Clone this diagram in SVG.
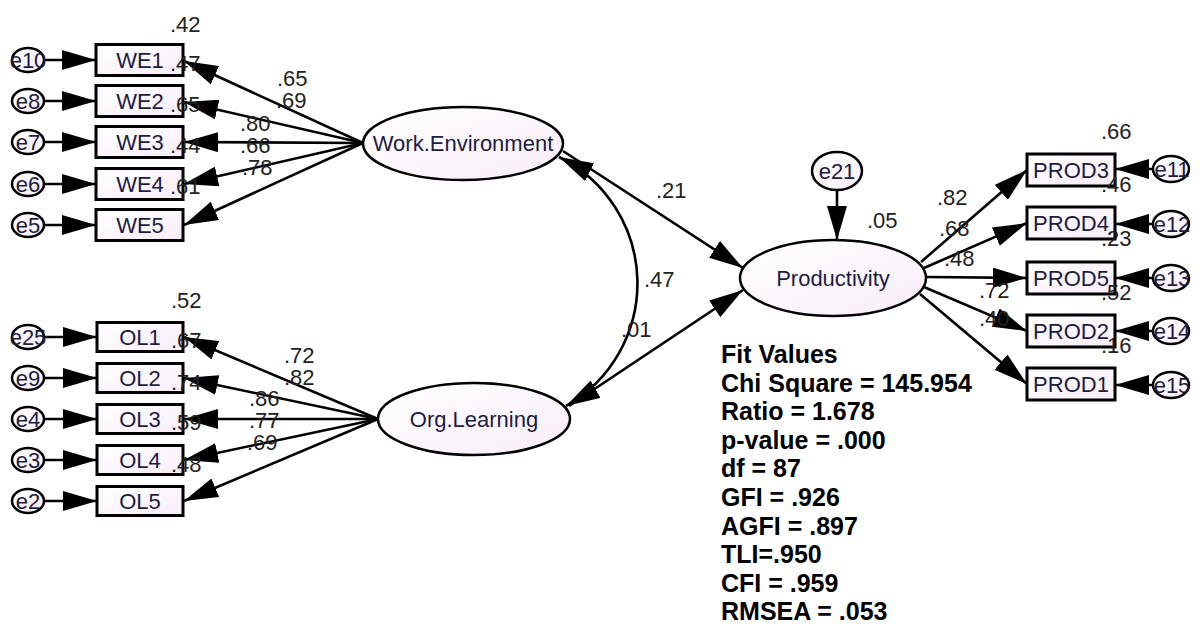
<svg xmlns="http://www.w3.org/2000/svg" width="1200" height="628" viewBox="0 0 1200 628">
<style>
.bg{fill:#ffffff}
.box{fill:url(#gf);stroke:#000;stroke-width:3}
.ell{fill:url(#gf);stroke:#000;stroke-width:2.5}
.err{fill:url(#gf);stroke:#000;stroke-width:2.5}
.lbl{font-family:"Liberation Sans",Arial,sans-serif;font-size:22px;fill:#1c1c44;text-anchor:middle}
.num{font-family:"Liberation Sans",Arial,sans-serif;font-size:22px;fill:#222}
.fit{font-family:"Liberation Sans",Arial,sans-serif;font-size:25px;font-weight:bold;fill:#000}
.ln{stroke:#000;stroke-width:2.6;fill:none}
</style>
<defs>
<linearGradient id="gf" x1="0" y1="0" x2="1" y2="1">
<stop offset="0" stop-color="#ffffff"/>
<stop offset="1" stop-color="#f9edf9"/>
</linearGradient>
<marker id="ah" markerUnits="userSpaceOnUse" markerWidth="34" markerHeight="20" refX="34" refY="10" orient="auto-start-reverse">
<path d="M0,0 L34,10 L0,20 z" fill="#000"/>
</marker>
</defs>
<rect class="bg" x="0" y="0" width="1200" height="628"/>

<g id="connectors">
<line class="ln" x1="44" y1="60" x2="96" y2="60" marker-end="url(#ah)"/>
<line class="ln" x1="44" y1="101" x2="96" y2="101" marker-end="url(#ah)"/>
<line class="ln" x1="44" y1="142" x2="96" y2="142" marker-end="url(#ah)"/>
<line class="ln" x1="44" y1="184" x2="96" y2="184" marker-end="url(#ah)"/>
<line class="ln" x1="44" y1="225" x2="96" y2="225" marker-end="url(#ah)"/>
<line class="ln" x1="363" y1="143" x2="184" y2="61" marker-end="url(#ah)"/>
<line class="ln" x1="363" y1="143" x2="184" y2="102" marker-end="url(#ah)"/>
<line class="ln" x1="363" y1="143" x2="184" y2="142" marker-end="url(#ah)"/>
<line class="ln" x1="363" y1="143" x2="184" y2="184" marker-end="url(#ah)"/>
<line class="ln" x1="363" y1="143" x2="184" y2="225" marker-end="url(#ah)"/>
<line class="ln" x1="44" y1="337" x2="97" y2="337" marker-end="url(#ah)"/>
<line class="ln" x1="44" y1="378" x2="97" y2="378" marker-end="url(#ah)"/>
<line class="ln" x1="44" y1="419" x2="97" y2="419" marker-end="url(#ah)"/>
<line class="ln" x1="44" y1="460" x2="97" y2="460" marker-end="url(#ah)"/>
<line class="ln" x1="44" y1="501" x2="97" y2="501" marker-end="url(#ah)"/>
<line class="ln" x1="378" y1="419" x2="184" y2="337" marker-end="url(#ah)"/>
<line class="ln" x1="378" y1="419" x2="184" y2="378" marker-end="url(#ah)"/>
<line class="ln" x1="378" y1="419" x2="184" y2="419" marker-end="url(#ah)"/>
<line class="ln" x1="378" y1="419" x2="184" y2="460" marker-end="url(#ah)"/>
<line class="ln" x1="378" y1="419" x2="184" y2="501" marker-end="url(#ah)"/>
<path class="ln" d="M559,157 A141,141 0 0 1 566,406" marker-start="url(#ah)" marker-end="url(#ah)"/>
<line class="ln" x1="563" y1="151" x2="743" y2="268" marker-end="url(#ah)"/>
<line class="ln" x1="569" y1="406" x2="743" y2="290" marker-end="url(#ah)"/>
<line class="ln" x1="837" y1="190" x2="837" y2="240" marker-end="url(#ah)"/>
<line class="ln" x1="921" y1="262" x2="1027" y2="170" marker-end="url(#ah)"/>
<line class="ln" x1="924" y1="268" x2="1027" y2="223" marker-end="url(#ah)"/>
<line class="ln" x1="927" y1="277" x2="1027" y2="278" marker-end="url(#ah)"/>
<line class="ln" x1="924" y1="287" x2="1027" y2="331" marker-end="url(#ah)"/>
<line class="ln" x1="920" y1="294" x2="1027" y2="384" marker-end="url(#ah)"/>
<line class="ln" x1="1153" y1="169" x2="1115" y2="169" marker-end="url(#ah)"/>
<line class="ln" x1="1153" y1="224" x2="1115" y2="224" marker-end="url(#ah)"/>
<line class="ln" x1="1153" y1="278" x2="1115" y2="278" marker-end="url(#ah)"/>
<line class="ln" x1="1153" y1="331" x2="1115" y2="331" marker-end="url(#ah)"/>
<line class="ln" x1="1153" y1="385" x2="1115" y2="385" marker-end="url(#ah)"/>
</g>

<g id="we">
<ellipse class="ell" cx="463" cy="143.5" rx="100" ry="36.5"/>
<text class="lbl" x="463" y="151">Work.Environment</text>
</g>
<g id="ol">
<ellipse class="ell" cx="474" cy="419" rx="96" ry="36"/>
<text class="lbl" x="474" y="427">Org.Learning</text>
</g>
<g id="prod">
<ellipse class="ell" cx="833" cy="278" rx="93" ry="38"/>
<text class="lbl" x="833" y="286">Productivity</text>
</g>
<g id="e21">
<ellipse class="err" cx="837" cy="171" rx="25" ry="19"/>
<text class="lbl" x="837" y="179">e21</text>
</g>

<g id="WE1"><rect class="box" x="96" y="44.5" width="87" height="31"/><text class="lbl" x="140" y="68">WE1</text></g>
<g id="WE2"><rect class="box" x="96" y="85.5" width="87" height="31"/><text class="lbl" x="140" y="109">WE2</text></g>
<g id="WE3"><rect class="box" x="96" y="126.5" width="87" height="31"/><text class="lbl" x="140" y="150">WE3</text></g>
<g id="WE4"><rect class="box" x="96" y="168.5" width="87" height="31"/><text class="lbl" x="140" y="192">WE4</text></g>
<g id="WE5"><rect class="box" x="96" y="209.5" width="87" height="31"/><text class="lbl" x="140" y="233">WE5</text></g>

<g id="OL1"><rect class="box" x="97" y="322.5" width="86" height="29"/><text class="lbl" x="140" y="345">OL1</text></g>
<g id="OL2"><rect class="box" x="97" y="363.5" width="86" height="29"/><text class="lbl" x="140" y="386">OL2</text></g>
<g id="OL3"><rect class="box" x="97" y="404.5" width="86" height="29"/><text class="lbl" x="140" y="427">OL3</text></g>
<g id="OL4"><rect class="box" x="97" y="445.5" width="86" height="29"/><text class="lbl" x="140" y="468">OL4</text></g>
<g id="OL5"><rect class="box" x="97" y="486.5" width="86" height="29"/><text class="lbl" x="140" y="509">OL5</text></g>

<g id="PROD3"><rect class="box" x="1027" y="154" width="88" height="32"/><text class="lbl" x="1071" y="178">PROD3</text></g>
<g id="PROD4"><rect class="box" x="1027" y="207" width="88" height="32"/><text class="lbl" x="1071" y="231">PROD4</text></g>
<g id="PROD5"><rect class="box" x="1027" y="262" width="88" height="32"/><text class="lbl" x="1071" y="286">PROD5</text></g>
<g id="PROD2"><rect class="box" x="1027" y="315" width="88" height="32"/><text class="lbl" x="1071" y="339">PROD2</text></g>
<g id="PROD1"><rect class="box" x="1027" y="368" width="88" height="32"/><text class="lbl" x="1071" y="392">PROD1</text></g>

<g id="e10"><ellipse class="err" cx="28" cy="60" rx="16" ry="12"/><text class="lbl" x="28" y="68">e10</text></g>
<g id="e8"><ellipse class="err" cx="28" cy="101" rx="16" ry="12"/><text class="lbl" x="28" y="109">e8</text></g>
<g id="e7"><ellipse class="err" cx="28" cy="142" rx="16" ry="12"/><text class="lbl" x="28" y="150">e7</text></g>
<g id="e6"><ellipse class="err" cx="28" cy="184" rx="16" ry="12"/><text class="lbl" x="28" y="192">e6</text></g>
<g id="e5"><ellipse class="err" cx="28" cy="225" rx="16" ry="12"/><text class="lbl" x="28" y="233">e5</text></g>
<g id="e25"><ellipse class="err" cx="28" cy="337" rx="16" ry="12"/><text class="lbl" x="28" y="345">e25</text></g>
<g id="e9"><ellipse class="err" cx="28" cy="378" rx="16" ry="12"/><text class="lbl" x="28" y="386">e9</text></g>
<g id="e4"><ellipse class="err" cx="28" cy="419" rx="16" ry="12"/><text class="lbl" x="28" y="427">e4</text></g>
<g id="e3"><ellipse class="err" cx="28" cy="460" rx="16" ry="12"/><text class="lbl" x="28" y="468">e3</text></g>
<g id="e2"><ellipse class="err" cx="28" cy="501" rx="16" ry="12"/><text class="lbl" x="28" y="509">e2</text></g>
<g id="e11"><ellipse class="err" cx="1171" cy="169" rx="18" ry="13"/><text class="lbl" x="1172" y="177">e11</text></g>
<g id="e12"><ellipse class="err" cx="1171" cy="224" rx="18" ry="13"/><text class="lbl" x="1172" y="232">e12</text></g>
<g id="e13"><ellipse class="err" cx="1171" cy="278" rx="18" ry="13"/><text class="lbl" x="1172" y="286">e13</text></g>
<g id="e14"><ellipse class="err" cx="1171" cy="331" rx="18" ry="13"/><text class="lbl" x="1172" y="339">e14</text></g>
<g id="e15"><ellipse class="err" cx="1171" cy="385" rx="18" ry="13"/><text class="lbl" x="1172" y="393">e15</text></g>

<g id="labels">
<text class="num" x="170" y="32">.42</text>
<text class="num" x="170" y="71">.47</text>
<text class="num" x="170" y="112">.65</text>
<text class="num" x="170" y="153">.44</text>
<text class="num" x="170" y="194">.61</text>
<text class="num" x="277" y="86">.65</text>
<text class="num" x="276" y="108">.69</text>
<text class="num" x="240" y="131">.80</text>
<text class="num" x="240" y="153">.66</text>
<text class="num" x="242" y="175">.78</text>
<text class="num" x="171" y="308">.52</text>
<text class="num" x="171" y="348">.67</text>
<text class="num" x="171" y="390">.74</text>
<text class="num" x="171" y="430">.59</text>
<text class="num" x="171" y="472">.48</text>
<text class="num" x="284" y="363">.72</text>
<text class="num" x="284" y="385">.82</text>
<text class="num" x="249" y="406">.86</text>
<text class="num" x="249" y="428">.77</text>
<text class="num" x="247" y="450">.69</text>
<text class="num" x="656" y="198">.21</text>
<text class="num" x="644" y="287">.47</text>
<text class="num" x="621" y="337">.01</text>
<text class="num" x="867" y="228">.05</text>
<text class="num" x="937" y="205">.82</text>
<text class="num" x="939" y="236">.68</text>
<text class="num" x="944" y="266">.48</text>
<text class="num" x="979" y="298">.72</text>
<text class="num" x="979" y="326">.40</text>
<text class="num" x="1101" y="139">.66</text>
<text class="num" x="1101" y="192">.46</text>
<text class="num" x="1101" y="246">.23</text>
<text class="num" x="1101" y="300">.52</text>
<text class="num" x="1101" y="353">.16</text>
</g>

<g id="fit">
<text class="fit" x="721" y="363">Fit Values</text>
<text class="fit" x="721" y="392">Chi Square = 145.954</text>
<text class="fit" x="721" y="420">Ratio = 1.678</text>
<text class="fit" x="721" y="449">p-value = .000</text>
<text class="fit" x="721" y="477">df = 87</text>
<text class="fit" x="721" y="506">GFI = .926</text>
<text class="fit" x="721" y="535">AGFI = .897</text>
<text class="fit" x="721" y="563">TLI=.950</text>
<text class="fit" x="721" y="592">CFI = .959</text>
<text class="fit" x="721" y="620">RMSEA = .053</text>
</g>
</svg>
